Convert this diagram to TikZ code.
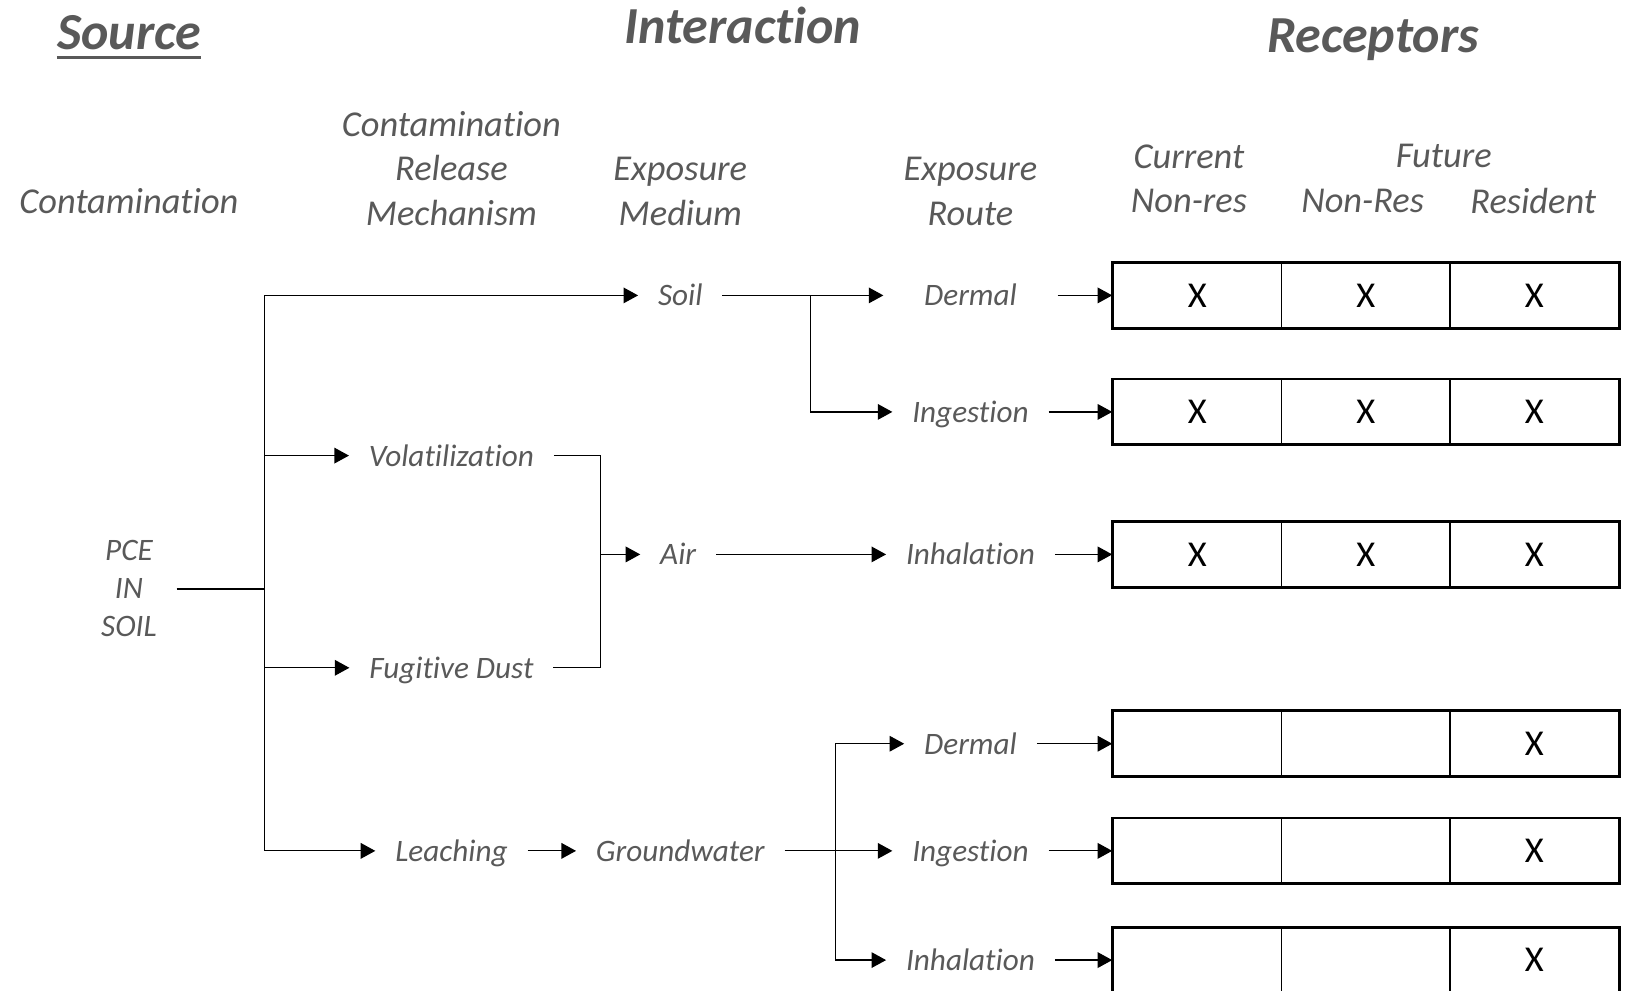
\documentclass[tikz,border=0pt]{standalone}
\usepackage{fontspec}
\setmainfont{Carlito}[Ligatures=NoCommon]
\usetikzlibrary{arrows.meta}
\definecolor{labelgray}{HTML}{595959}

\begin{document}
\begin{tikzpicture}[
        x=1pt, y=-1pt,
        lbl/.style={font=\fontsize{30}{36.5}\selectfont\itshape, text=labelgray, inner xsep=19pt, inner ysep=0pt, text height=20pt, text depth=0pt},
        colhead/.style={font=\fontsize{35}{43}\selectfont\itshape, text=labelgray, align=center},
        tophead/.style={font=\fontsize{50}{60}\selectfont\bfseries\itshape, text=labelgray, inner sep=0pt, anchor=base},
        cell/.style={draw, line width=1.5pt, minimum width=162pt, minimum height=62pt, inner sep=0pt, font=\fontsize{35}{43}\selectfont},
        link/.style={line width=1.2pt},
        arr/.style={link, -{Triangle[length=14pt,width=15pt]}}
    ]
    \useasboundingbox (0,0) rectangle (1568,952);

    % headings
    \node[tophead] (source)      at (124,48)  {Source};
    \node[tophead] (interaction) at (714,42)  {Interaction};
    \node[tophead] (receptors)   at (1320,50) {Receptors};
    \draw[line width=3pt, labelgray] ([yshift=-7pt]source.base west) -- ([yshift=-7pt]source.base east);

    \node[colhead] (hcontam)  at (124,193)  {Contamination};
    \node[colhead] (hrelease) at (434,162)  {Contamination\\Release\\Mechanism};
    \node[colhead] (hmedium)  at (654,184)  {Exposure\\Medium};
    \node[colhead] (hroute)   at (933,184)  {Exposure\\Route};
    \node[colhead] (hcurrent) at (1143,172) {Current\\Non-res};
    \node[colhead] (hfuture)  at (1388,150) {Future};
    \node[colhead] (hfutnr)   at (1310,193) {Non-Res};
    \node[colhead] (hresid)   at (1474,193) {Resident};

    % pathway
    \node[colhead, font=\fontsize{30}{36.5}\selectfont\itshape, inner xsep=19pt] (pce) at (124,566) {PCE\\IN\\SOIL};
    \node[lbl] (soil)   at (654,284) {Soil};
    \node[lbl] (volat)  at (434,438) {Volatilization};
    \node[lbl] (dust)   at (434,642) {Fugitive Dust};
    \node[lbl] (leach)  at (434,818) {Leaching};
    \node[lbl] (air)    at (652,533) {Air};
    \node[lbl] (gwater) at (654,818) {Groundwater};

    \node[lbl, inner xsep=39pt] (dermA) at (933,284) {Dermal};
    \node[lbl] (ingA)  at (933,396) {Ingestion};
    \node[lbl] (inhA)  at (933,533) {Inhalation};
    \node[lbl] (dermB) at (933,715) {Dermal};
    \node[lbl] (ingB)  at (933,818) {Ingestion};
    \node[lbl] (inhB)  at (933,923) {Inhalation};

    \coordinate (split)     at (254,566);
    \coordinate (airjoin)   at (577,533);
    \coordinate (soilsplit) at (779,284);
    \coordinate (gwsplit)   at (803,818);

    \draw[link, line width=2pt] (pce) -- (split);
    \draw[arr] (split) |- (soil);
    \draw[arr] (split) |- (volat);
    \draw[arr] (split) |- (dust);
    \draw[arr] (split) |- (leach);
    \draw[link] (volat) -| (airjoin);
    \draw[link] (dust) -| (airjoin);
    \draw[arr] (airjoin) -- (air);
    \draw[arr] (leach) -- (gwater);
    \draw[arr] (soil) -- (dermA);
    \draw[arr] (soilsplit) |- (ingA);
    \draw[arr] (air) -- (inhA);
    \draw[arr] (gwater) -- (ingB);
    \draw[arr] (gwsplit) |- (dermB);
    \draw[arr] (gwsplit) |- (inhB);

    % receptor table
    \foreach \row/\ypos/\route/\ma/\mb/\mc in {1/284/dermA/X/X/X, 2/396/ingA/X/X/X, 3/533/inhA/X/X/X,
            4/715/dermB/{}/{}/X, 5/818/ingB/{}/{}/X, 6/923/inhB/{}/{}/X}{
        \node[cell] (cur\row) at (1151,\ypos) {\ma};
        \node[cell] (fnr\row) at (1313,\ypos) {\mb};
        \node[cell] (res\row) at (1475,\ypos) {\mc};
        \draw[line width=2.5pt] (cur\row.north west) rectangle (res\row.south east);
        \draw[arr] (\route) -- (cur\row);
    }
\end{tikzpicture}
\end{document}
